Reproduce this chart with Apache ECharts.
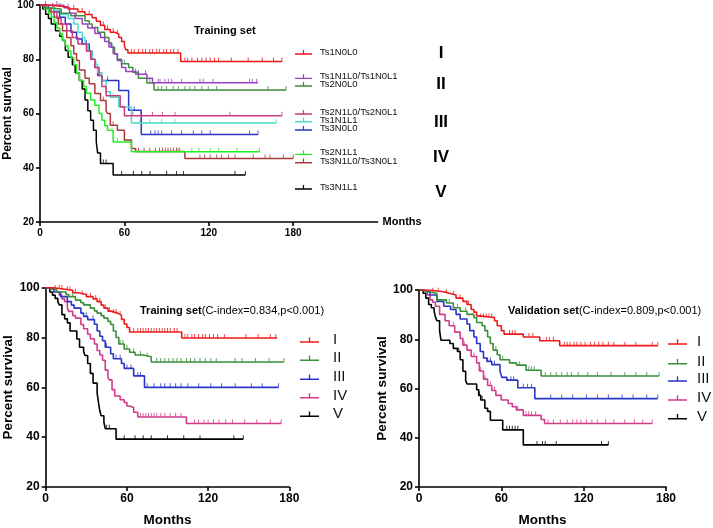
<!DOCTYPE html>
<html>
<head>
<meta charset="utf-8">
<script src="https://cdn.jsdelivr.net/npm/echarts@6/dist/echarts.min.js"></script>
<style>html,body{margin:0;padding:0;background:#fff}#c{width:713px;height:528px}</style>
</head>
<body>
<div id="c"></div>
<script>
// ---------- TOP PANEL (Training set, subgroups) ----------
const tickLabelsX = [0, 60, 120, 180];
const tickLabelsY = [20, 40, 60, 80, 100];

const topNames = ['Ts1N0L0','Ts1N1L0/Ts1N0L1','Ts2N0L0','Ts2N1L0/Ts2N0L1','Ts1N1L1','Ts3N0L0','Ts2N1L1','Ts3N1L0/Ts3N0L1','Ts3N1L1'];
const topGroups = ['I','II','III','IV','V'];

const t_Ts1N0L0 = [0,6,20,27,32,37,40,43,46,50,53,56,58,60,61,62.5,100,172];
const s_Ts1N0L0 = [100,99.3,98.5,97.5,96.5,95.3,94,92.5,91,90,89.3,88,86.5,85,83.5,82.3,79.2,79.2];
const c_Ts1N0L0 = [4,9,14,24,30,35,45,48,52,55,65,67,70,73,75,78,80,83,85,88,90,93,95,98,103,105,108,112,115,118,121,124,127,136,148,158,166,172];

const t_Ts1N1L0 = [0,17,21,25,30,34,39,43,46,49,52,55,58,61,68,76,80,155];
const s_Ts1N1L0 = [100,99,97,95,93,91.5,89.5,88,86.5,84.5,82,79.5,77,75.5,74.5,73,71.3,71.3];
const c_Ts1N1L0 = [12,20,50,70,75,84,85.3,88.8,91.2,93.6,100.7,113.7,116,123,149,151,154];

const t_Ts2N0L0 = [0,3,6,15,22,32,35,37,41,46,49,51,53,55,58,63,66,70,76,81,175];
const s_Ts2N0L0 = [100,99,98.5,97,96,94.2,93,91.7,90,88,86,84.4,82,80,78.3,77,75.2,73,71.2,68.7,68.7];
const c_Ts2N0L0 = [10,26,60,68,78,84,86.5,90,94.7,98.3,103,106.6,110,115,119.6,125.6,162,175];

const t_Ts2N1L0 = [0,4,8,12,15,19,23,27,33,36,39,42,44,47,57,60,172];
const s_Ts2N1L0 = [100,99,97.5,95,93,90.5,88,85.6,83,80,77,74,70,66.5,62.5,59.2,59.2];
const c_Ts2N1L0 = [30,50,66,72,80,87,96,135,172];

const t_Ts1N1L1 = [0,5,10,15,20,24,27,30,32,34,37,39,41,44,47,50,56,65,168];
const s_Ts1N1L1 = [100,99,98,96.5,95,93,90,88,85.5,83,80,78,75,72,68,66,62.4,56.5,56.5];
const c_Ts1N1L1 = [40,52,71,78,86.5,96,168];

const t_Ts3N0L0 = [0,6,10,14,18,22,26,30,35,37,39,41,44,56,63,72,155];
const s_Ts3N0L0 = [100,99,97.5,95.5,93,90,87.5,85.6,83,80,77,74,72.2,68.5,61.2,52.3,52.3];
const c_Ts3N0L0 = [33,48,67,78.7,81.7,84,86.5,93.6,100.7,109,115,121,149,155];

const t_Ts2N1L1 = [0,3,6,8,10,12,14,16,18,20,22,24,26,28,31,33,36,39,42,44,46,48,52,65,156];
const s_Ts2N1L1 = [100,98.5,97,95.5,93.5,91.5,89.4,87,85,83,80.5,78,75,72.2,70,67.5,65,63,60,57.5,55.5,53.8,49.5,45.9,45.9];
const c_Ts2N1L1 = [55,60,98,108,113,121,127,140,156];

const t_Ts3N1L0 = [0,4,7,10,13,16,19,22,24,26,28,32,35,39,43,47,48,50,55,60,65,68,103,180];
const s_Ts3N1L0 = [100,99,97.5,95.5,93,90.5,88,85,82,79.5,76,73,71,67.4,64.8,61,60,55.7,53.8,50.2,47.1,46,43.4,43.4];
const c_Ts3N1L0 = [45,52,70,74,78,82,85,87,89,91,93,95,97,99,113.7,117,121,125.6,129,134,138.6,151.6,160,163.5,173,180];

const t_Ts3N1L1 = [0,2,4,6,8,11,14,16,18,20,23,25,28,30,32,34,36,38,40,41,43,52,146];
const s_Ts3N1L1 = [100,98.5,96.6,95,93,90.5,88.5,86.9,83.2,80.7,78,75,72.2,69,65,61,57.5,53.8,49.5,45.4,41.6,37.3,37.3];
const c_Ts3N1L1 = [45,47,58,66.4,72.3,78.2,90,97,102,138.6,146];

// ---------- BOTTOM LEFT (Training set, stages) ----------
const stageNames = ['I','II','III','IV','V'];

const t_train_I = [0,5,13,20,24,30,35,38,41,43,46,48,53,56,58,60,62,100.5,171];
const s_train_I = [100,99.5,99,98,97.3,96.4,95.5,94.4,93,91.8,90.6,89.8,89,87.3,85.4,84,82.2,79.8,79.8];
const c_train_I = [7,10,12,16,18,22,27,33,37,40,44,47,50,52,55,65,68,70,72,74,76,78,80,82,84,86,88,90,92,95,97,103,105,108,110,113,116,118,121,124,127,132,148,157,166,170];

const t_train_II = [0,3,8,15,17,22,26,28,33,36,38,41,43,46,48,50,52,54,58,62,66,72,78,176];
const s_train_II = [100,99.2,98.3,97.3,96.4,95,94,93.1,91.8,90.7,89.8,88.8,87.8,86.5,85.2,82.6,80,77.4,75.4,74.1,73,72.3,70.2,70.2];
const c_train_II = [20,55,57,60,65,70,75,82,85,88,91,94,97,100,104,107,110,114,118,122,126,140,145,155,165,176];

const t_train_III = [0,3,6,11,16,19,21,26,28,31,36,38,40,42,44,48,50,56,58,65,73,172];
const s_train_III = [100,99.2,98.3,96.4,94.4,93,91.8,89.8,88.5,87.2,85.3,82.6,80.5,78.7,76.1,73.5,71.5,69.6,67.6,64.6,60,60];
const c_train_III = [30,35,45,52,55,60,63,68,70,75,80,85,88,92,96,100,105,113,122,130,140,152,160,172];

const t_train_IV = [0,5,8,10,12,14,16,17,20,22,26,28,31,33,36,38,40,42,44,46,47,49,51,55,58,60,62,65,68,104,174];
const s_train_IV = [100,99.2,98.3,97,95.5,94.4,92,90.5,88.8,87.8,85.2,83.5,81.3,79.5,77.4,74.8,73,70.9,66.9,64,63,59.1,56.5,55,53.9,52.5,51.9,50,48.1,45.5,45.5];
const c_train_IV = [70,72,74,76,78,80,82,85,88,92,96,100,110,113,117,120,124,128,133,138,147,156,166,174];

const t_train_V = [0,3,5,7,9,10,12,14,16,18,23,25,28,29,31,33,35,38,39,40,41,43,44,52,146];
const s_train_V = [100,98.3,97,95.7,94.4,93.1,89.2,87.5,85.9,82.6,79.4,76.1,74.5,72.8,69.6,65.6,61.7,57.8,54,50.5,48.6,46,43.4,39.2,39.2];
const c_train_V = [45,47,58,66,72,78,90,102,114,139,146];

// ---------- BOTTOM RIGHT (Validation set, stages) ----------
const t_val_I = [0,6,18,22,27,32,35,38,40,42,44,55,57,60,62,76,88,102.5,174];
const s_val_I = [100,99.3,98.7,98,96.7,95.4,94.1,92.1,91,89.5,88.8,87.5,85.5,83.5,82.1,80.9,79.4,77.4,77.4];
const c_val_I = [10,14,20,25,30,36,45,47,49,51,53,66,68,70,80,83,93,95,98,106,108,110,113,115,118,121,125,128,131,134,138,142,150,158,170,174];

const t_val_II = [0,3,6,13,20,25,30,35,40,42,46,48,50,52,54,57,59,66,71,78,89,175];
const s_val_II = [100,99.3,98.7,96,94.7,92.8,91.4,90.1,88.8,86.8,85.5,83.5,80.9,78.3,75.6,73.7,71.7,70.4,69.5,67.4,65.1,65.1];
const c_val_II = [22,28,34,56,61,73,80,82,84,92,96,100,104,108,111,116,123,130,140,150,158,166,175];

const t_val_III = [0,4,8,13,18,23,27,30,35,37,40,42,44.6,47,49.5,53,59,60.4,64,72,84.4,174];
const s_val_III = [100,99.3,98,95.4,93.4,92.1,90.1,88.2,86.2,83.5,80.9,78.3,75,72.4,71,69.7,67.1,64.5,63.4,60.3,55.9,55.9];
const c_val_III = [50,52,55,67,69,76,79,82,96,104,112,122,130,138,148,156,166,174];

const t_val_IV = [0,3,6,8,10,12,15,19,22,26,30,32,35,38,42,44,47,50,53,56,60,65,68,71,76,89,91.5,170];
const s_val_IV = [100,99.3,98,96,95,93.4,90.1,87.5,85.5,82.9,80.3,77.6,75.6,73,70.4,67.1,63.8,61.2,59.2,57.2,55.3,53.9,52.6,51.3,49.1,47.4,45.8,45.8];
const c_val_IV = [25,33,40,45,48,52,55,72,78,80,82,85,94,98,103,108,112,115,118,122,126,130,136,142,150,157,163,170];

const t_val_V = [0,3,5,7,9,11,12,13,15,16,22.5,25,28,30,32,34,35,42,43.5,45,48,50,52,61,76,138];
const s_val_V = [100,98.7,96.7,94.1,92.8,91.4,89,87.5,83.5,79.6,78.3,76.3,75,71.7,67,63.2,61.8,59.5,57.2,55.3,52,50.7,47.1,43.2,37.1,37.1];
const c_val_V = [29,42,44,46,64,66,68,70,72,86,90,92,100,133,138];

// ---------- build ----------
const FONT = '"Liberation Sans", Arial, Helvetica, sans-serif';
const topColors = ['#f01515','#9a40c6','#3d8b3d','#cf3680','#45e0c8','#2a35c4','#22ee22','#a83a3a','#000000'];
const stageColors = ['#ee1a1a','#3a8f3a','#2b35c4','#d23a8a','#000000'];

function kmData(t, s) { return t.map((x, i) => [x, s[i]]); }
function censorData(t, s, c) {
  return c.map(ct => { let v = s[0]; for (let i = 0; i < t.length; i++) { if (t[i] <= ct) v = s[i]; } return [ct, v]; });
}

const series = [];
function addCurve(name, color, t, s, c, gi, lw) {
  series.push({ name: name, type: 'line', step: 'end', xAxisIndex: gi, yAxisIndex: gi,
    data: kmData(t, s), showSymbol: false, symbol: 'none', silent: true, animation: false,
    lineStyle: { color: color, width: lw }, itemStyle: { color: color } });
  series.push({ type: 'scatter', xAxisIndex: gi, yAxisIndex: gi, data: censorData(t, s, c),
    symbol: 'rect', symbolSize: [1, 4], symbolOffset: [0, -2], silent: true, animation: false,
    itemStyle: { color: color } });
}

const topT = [t_Ts1N0L0,t_Ts1N1L0,t_Ts2N0L0,t_Ts2N1L0,t_Ts1N1L1,t_Ts3N0L0,t_Ts2N1L1,t_Ts3N1L0,t_Ts3N1L1];
const topS = [s_Ts1N0L0,s_Ts1N1L0,s_Ts2N0L0,s_Ts2N1L0,s_Ts1N1L1,s_Ts3N0L0,s_Ts2N1L1,s_Ts3N1L0,s_Ts3N1L1];
const topC = [c_Ts1N0L0,c_Ts1N1L0,c_Ts2N0L0,c_Ts2N1L0,c_Ts1N1L1,c_Ts3N0L0,c_Ts2N1L1,c_Ts3N1L0,c_Ts3N1L1];
for (let i = topNames.length - 1; i >= 0; i--) addCurve(topNames[i], topColors[i], topT[i], topS[i], topC[i], 0, 1.5);

const trT = [t_train_I,t_train_II,t_train_III,t_train_IV,t_train_V];
const trS = [s_train_I,s_train_II,s_train_III,s_train_IV,s_train_V];
const trC = [c_train_I,c_train_II,c_train_III,c_train_IV,c_train_V];
for (let i = 4; i >= 0; i--) addCurve(stageNames[i], stageColors[i], trT[i], trS[i], trC[i], 1, 1.6);

const vaT = [t_val_I,t_val_II,t_val_III,t_val_IV,t_val_V];
const vaS = [s_val_I,s_val_II,s_val_III,s_val_IV,s_val_V];
const vaC = [c_val_I,c_val_II,c_val_III,c_val_IV,c_val_V];
for (let i = 4; i >= 0; i--) addCurve(stageNames[i], stageColors[i], vaT[i], vaS[i], vaC[i], 2, 1.6);

const ICON = 'path://M0,4.6L20,4.6L20,6.2L0,6.2Z M9.3,0.5L10.7,0.5L10.7,4.6L9.3,4.6Z';

const legends = [];
const topLegendY = [52.3, 76.7, 84.3, 112.3, 120, 128.3, 152.7, 161, 187.3];
topNames.forEach((n, i) => legends.push({
  data: [n], left: 295, top: topLegendY[i] - 5, padding: 0, itemWidth: 17, itemHeight: 5,
  icon: ICON, selectedMode: false,
  textStyle: { fontFamily: FONT, fontSize: 9.5, lineHeight: 10, color: '#111', padding: [0, 0, 0, 3] }
}));
const blLegendY = [340, 358.3, 377.3, 395.7, 414.3];
const brLegendY = [342, 361.7, 379, 398, 416.7];
stageNames.forEach((n, i) => {
  legends.push({ data: [n], left: 300, top: blLegendY[i] - 8, padding: 0, itemWidth: 19, itemHeight: 7,
    icon: ICON, selectedMode: false,
    textStyle: { fontFamily: FONT, fontSize: 15, lineHeight: 16, color: '#111', padding: [0, 0, 0, 9] } });
  legends.push({ data: [n], left: 668, top: brLegendY[i] - 8, padding: 0, itemWidth: 19, itemHeight: 7,
    icon: ICON, selectedMode: false,
    textStyle: { fontFamily: FONT, fontSize: 15, lineHeight: 16, color: '#111', padding: [0, 0, 0, 5] } });
});

function xAx(gi, max, fs, nameCfg) {
  return Object.assign({
    gridIndex: gi, type: 'value', min: 0, max: max, interval: 60,
    axisLine: { show: true, lineStyle: { color: '#000', width: 1.6 } },
    axisTick: { show: true, length: 4, lineStyle: { color: '#000', width: 1.6 }, customValues: tickLabelsX },
    axisLabel: { color: '#000', fontFamily: FONT, fontWeight: 'bold', fontSize: fs, margin: 6, customValues: tickLabelsX },
    splitLine: { show: false }
  }, nameCfg);
}
function yAx(gi, fs, nameFs, nameGap) {
  return {
    gridIndex: gi, type: 'value', min: 20, max: 100, interval: 20,
    name: 'Percent survival', nameLocation: 'middle', nameGap: nameGap, nameRotate: 90,
    nameTextStyle: { color: '#000', fontFamily: FONT, fontWeight: 'bold', fontSize: nameFs },
    axisLine: { show: true, lineStyle: { color: '#000', width: 1.6 } },
    axisTick: { show: true, length: 4, lineStyle: { color: '#000', width: 1.6 } },
    axisLabel: { color: '#000', fontFamily: FONT, fontWeight: 'bold', fontSize: fs, margin: 6 },
    splitLine: { show: false }
  };
}

const romanY = [53, 84, 122, 157, 192];
const richTitle = {
  b: { fontFamily: FONT, fontSize: 11, fontWeight: 'bold', color: '#000' },
  n: { fontFamily: FONT, fontSize: 11, fontWeight: 'normal', color: '#000' }
};

const option = {
  animation: false,
  backgroundColor: '#fff',
  textStyle: { fontFamily: FONT },
  title: [
    { text: 'Training set', left: 194, top: 25, padding: 0,
      textStyle: { fontFamily: FONT, fontSize: 11, fontWeight: 'bold', color: '#000' } },
    { text: '{b|Training set}{n|(C-index=0.834,p<0.001)}', left: 140, top: 305, padding: 0,
      textStyle: { fontWeight: 'normal', fontSize: 11, rich: richTitle } },
    { text: '{b|Validation set}{n|(C-index=0.809,p<0.001)}', left: 508, top: 305, padding: 0,
      textStyle: { fontWeight: 'normal', fontSize: 11, rich: richTitle } }
  ],
  legend: legends,
  grid: [
    { left: 40, top: 4.2, width: 337.6, height: 217.8 },
    { left: 45.7, top: 287.7, width: 243.6, height: 204 },
    { left: 419, top: 290, width: 247, height: 202.7 }
  ],
  xAxis: [
    xAx(0, 240, 10, { name: 'Months', nameLocation: 'end', nameGap: 5,
      nameTextStyle: { color: '#000', fontFamily: FONT, fontWeight: 'bold', fontSize: 11 } }),
    xAx(1, 180, 12, { name: 'Months', nameLocation: 'middle', nameGap: 26,
      nameTextStyle: { color: '#000', fontFamily: FONT, fontWeight: 'bold', fontSize: 13.5 } }),
    xAx(2, 180, 12, { name: 'Months', nameLocation: 'middle', nameGap: 26,
      nameTextStyle: { color: '#000', fontFamily: FONT, fontWeight: 'bold', fontSize: 13.5 } })
  ],
  yAxis: [ yAx(0, 10, 12, 25), yAx(1, 12, 13.5, 29), yAx(2, 12, 13.5, 29) ],
  graphic: topGroups.map((g, i) => ({
    type: 'text', x: 441, y: romanY[i], silent: true,
    style: { text: g, fill: '#000', font: 'bold 17px ' + FONT, align: 'center', verticalAlign: 'middle' }
  })),
  series: series
};

const chart = echarts.init(document.getElementById('c'), null, { renderer: 'canvas' });
chart.setOption(option);
</script>
</body>
</html>
